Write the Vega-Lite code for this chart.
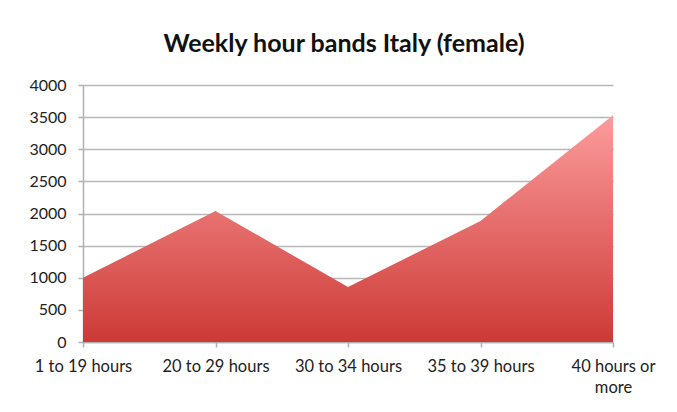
{
  "$schema": "https://vega.github.io/schema/vega-lite/v6.json",
  "width": 530,
  "height": 257,
  "autosize": {"type": "none"},
  "padding": {"left": 83, "top": 85, "right": 64, "bottom": 70},
  "background": "white",
  "title": {
    "text": "Weekly hour bands Italy (female)",
    "font": "Lato",
    "fontSize": 25,
    "fontWeight": "bold",
    "color": "#111111",
    "anchor": "middle",
    "dx": -4,
    "offset": 20
  },
  "data": {
    "values": [
      {"band": "1 to 19 hours", "value": 1000},
      {"band": "20 to 29 hours", "value": 2040},
      {"band": "30 to 34 hours", "value": 855},
      {"band": "35 to 39 hours", "value": 1885},
      {"band": "40 hours or more", "value": 3530}
    ]
  },
  "mark": {
    "type": "area",
    "line": false,
    "fill": {
      "x1": 0, "y1": 0, "x2": 0, "y2": 1,
      "gradient": "linear",
      "stops": [
        {"offset": 0, "color": "#fc9c9c"},
        {"offset": 1, "color": "#cc3a36"}
      ]
    }
  },
  "encoding": {
    "x": {
      "field": "band",
      "type": "ordinal",
      "sort": null,
      "scale": {"type": "point", "padding": 0},
      "axis": {
        "title": null,
        "labelAngle": 0,
        "labelFont": "Lato",
        "labelFontSize": 16.5,
        "labelColor": "#222222",
        "labelPadding": 11,
        "labelOverlap": false,
        "labelLineHeight": 21,
        "labelExpr": "datum.value == '40 hours or more' ? ['40 hours or', 'more'] : datum.value",
        "tickSize": 5,
        "tickColor": "#b0b0b0",
        "tickWidth": 1.5,
        "domainColor": "#b0b0b0",
        "domainWidth": 1.5,
        "grid": false
      }
    },
    "y": {
      "field": "value",
      "type": "quantitative",
      "scale": {"domain": [0, 4000], "nice": false},
      "axis": {
        "title": null,
        "values": [0, 500, 1000, 1500, 2000, 2500, 3000, 3500, 4000],
        "format": "d",
        "labelFont": "Lato",
        "labelFontSize": 16,
        "labelColor": "#222222",
        "labelPadding": 12,
        "tickSize": 5,
        "tickColor": "#b0b0b0",
        "tickWidth": 1.5,
        "domainColor": "#b0b0b0",
        "domainWidth": 1.5,
        "grid": true,
        "gridColor": "#b8b8b8",
        "gridWidth": 1.5
      }
    }
  },
  "config": {
    "view": {"stroke": null}
  }
}
